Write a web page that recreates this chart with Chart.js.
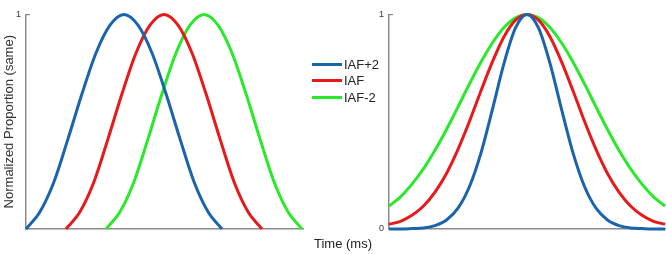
<!DOCTYPE html>
<html>
<head>
<meta charset="utf-8">
<script src="https://cdn.jsdelivr.net/npm/chart.js@4.4.1/dist/chart.umd.min.js"></script>
<style>
  html, body { margin: 0; padding: 0; background: #fff; }
  body { width: 666px; height: 254px; position: relative; overflow: hidden; font-family: "Liberation Sans", Arial, sans-serif; }
  canvas { position: absolute; top: 0; }
  #leftChart { left: 0; }
  #rightChart { left: 356px; }
  #legend { position: absolute; left: 312px; top: 56px; font-size: 13px; color: #222; }
  .item { display: flex; align-items: center; height: 16.5px; }
  .swatch { width: 30px; height: 3px; margin-right: 2px; }
  #xtitle { position: absolute; left: 314px; top: 236px; font-size: 13px; color: #222; }
</style>
</head>
<body>
<canvas id="leftChart" width="310" height="254"></canvas>
<canvas id="rightChart" width="310" height="254"></canvas>
<div id="legend"></div>
<div id="xtitle">Time (ms)</div>
<script>
const seriesNames = ["IAF+2", "IAF", "IAF-2"];
const seriesColors = ["#1a64ad", "#e8191b", "#2ae82a"];

// left panel: time of each reading, normalized proportion
const iafPlus2Time = [0, 14, 28, 42, 56, 70, 84, 98, 112, 126, 140, 154, 168, 182, 196];
const iafTime = [40, 54, 68, 82, 96, 110, 124, 138, 152, 166, 180, 194, 208, 222, 236];
const iafMinus2Time = [80, 94, 108, 122, 136, 150, 164, 178, 192, 206, 220, 234, 248, 262, 276];
const iafPlus2Left = [0, 0.08, 0.22, 0.42, 0.63, 0.82, 0.95, 1, 0.95, 0.82, 0.63, 0.42, 0.22, 0.08, 0];
const iafLeft = [0, 0.08, 0.22, 0.42, 0.63, 0.82, 0.95, 1, 0.95, 0.82, 0.63, 0.42, 0.22, 0.08, 0];
const iafMinus2Left = [0, 0.08, 0.22, 0.42, 0.63, 0.82, 0.95, 1, 0.95, 0.82, 0.63, 0.42, 0.22, 0.08, 0];

// right panel
const rightTime = [-12, -11, -10, -9, -8, -7, -6, -5, -4, -3, -2, -1, 0, 1, 2, 3, 4, 5, 6, 7, 8, 9, 10, 11, 12];
const iafPlus2Right = [0, 0, 0.002, 0.005, 0.016, 0.042, 0.097, 0.198, 0.355, 0.559, 0.772, 0.937, 1,
  0.937, 0.772, 0.559, 0.355, 0.198, 0.097, 0.042, 0.016, 0.005, 0.002, 0, 0];
const iafRight = [0.022, 0.036, 0.064, 0.107, 0.172, 0.259, 0.371, 0.502, 0.644, 0.780, 0.896, 0.973, 1,
  0.973, 0.896, 0.780, 0.644, 0.502, 0.371, 0.259, 0.172, 0.107, 0.064, 0.036, 0.022];
const iafMinus2Right = [0.107, 0.150, 0.209, 0.281, 0.367, 0.464, 0.569, 0.676, 0.778, 0.868, 0.939, 0.984, 1,
  0.984, 0.939, 0.868, 0.778, 0.676, 0.569, 0.464, 0.367, 0.281, 0.209, 0.150, 0.107];

const toPoints = (xs, ys) => xs.map((x, i) => ({ x: x, y: ys[i] }));

const makeDataset = (i, xs, ys) => ({
  label: seriesNames[i],
  data: toPoints(xs, ys),
  borderColor: seriesColors[i],
  borderWidth: 3,
  pointRadius: 0,
  fill: false,
  clip: false,
  cubicInterpolationMode: "monotone",
});

const axisColor = "#8a8a8a";

const makeOptions = (xMin, xMax, yWidth, padRight, showZero, yTitle) => ({
  responsive: false,
  animation: false,
  layout: { padding: { top: 4, right: padRight, left: 0, bottom: 0 } },
  plugins: { legend: { display: false }, tooltip: { enabled: false } },
  scales: {
    x: {
      type: "linear",
      min: xMin,
      max: xMax,
      grid: { display: false },
      ticks: { display: false },
      border: { color: axisColor, width: 1.5 },
      afterFit: (scale) => { scale.height = 25; },
    },
    y: {
      min: 0,
      max: 1,
      grid: { display: true, drawOnChartArea: false, drawTicks: true, tickLength: -4, color: axisColor, lineWidth: 1.2 },
      border: { color: axisColor, width: 1.5 },
      ticks: {
        stepSize: 1,
        padding: 9,
        color: "#333",
        font: { family: "Liberation Sans", size: 9 },
        callback: (v) => (v === 1 ? "1" : (showZero && v === 0 ? "0" : "")),
      },
      title: {
        display: !!yTitle,
        text: yTitle,
        color: "#333",
        font: { family: "Liberation Sans", size: 13 },
        padding: { top: 2, bottom: 0 },
      },
      afterFit: (scale) => { scale.width = yWidth; },
    },
  },
});

new Chart(document.getElementById("leftChart").getContext("2d"), {
  type: "line",
  data: {
    datasets: [
      makeDataset(0, iafPlus2Time, iafPlus2Left),
      makeDataset(1, iafTime, iafLeft),
      makeDataset(2, iafMinus2Time, iafMinus2Left),
    ],
  },
  options: makeOptions(0, 277, 26, 7, false, "Normalized Proportion (same)"),
});

new Chart(document.getElementById("rightChart").getContext("2d"), {
  type: "line",
  data: {
    datasets: [
      makeDataset(0, rightTime, iafPlus2Right),
      makeDataset(1, rightTime, iafRight),
      makeDataset(2, rightTime, iafMinus2Right),
    ],
  },
  options: makeOptions(-12, 12, 33, 1, true, ""),
});

// legend between the panels
const legend = document.getElementById("legend");
seriesNames.forEach((name, i) => {
  const item = document.createElement("div");
  item.className = "item";
  const swatch = document.createElement("span");
  swatch.className = "swatch";
  swatch.style.background = seriesColors[i];
  const text = document.createElement("span");
  text.textContent = name;
  item.appendChild(swatch);
  item.appendChild(text);
  legend.appendChild(item);
});
</script>
</body>
</html>
